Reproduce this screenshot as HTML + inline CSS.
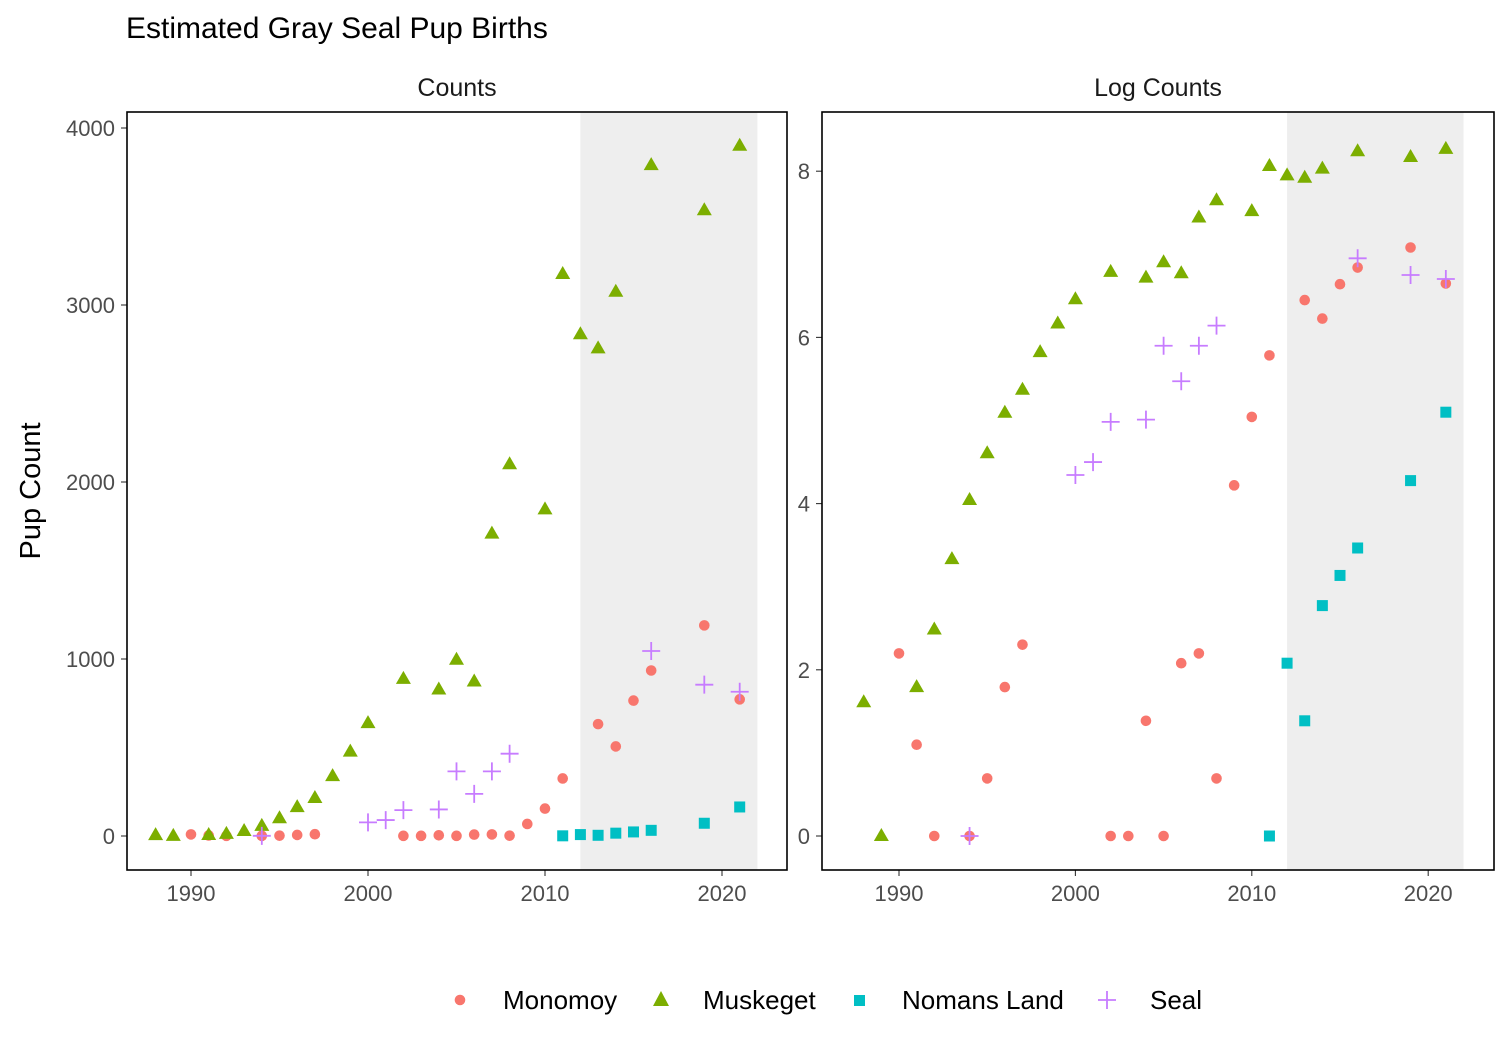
<!DOCTYPE html>
<html><head><meta charset="utf-8"><style>
body{margin:0;background:#fff}
svg{display:block;font-family:"Liberation Sans",Arial,sans-serif}
</style></head><body>
<svg id="chart" width="1512" height="1058" viewBox="0 0 1512 1058" xmlns="http://www.w3.org/2000/svg">
<rect width="1512" height="1058" fill="#fff"/>
<text x="126" y="38" style="font-size:30px" fill="#000">Estimated Gray Seal Pup Births</text>
<text transform="translate(40,491) rotate(-90)" text-anchor="middle" style="font-size:29px" fill="#000">Pup Count</text>
<g id="panels"></g>
<g>
<circle cx="460" cy="1000" r="5.3" fill="#F8766D"/>
<text x="503" y="1009" style="font-size:26px">Monomoy</text>
<polygon points="661,991 669,1006 653,1006" fill="#7CAE00"/>
<text x="703" y="1009" style="font-size:26px">Muskeget</text>
<rect x="854" y="995" width="11" height="11" fill="#00BFC4"/>
<text x="902" y="1009" style="font-size:26px">Nomans Land</text>
<path d="M1098,1000h18M1107,991v18" stroke="#C77CFF" stroke-width="1.8"/>
<text x="1150" y="1009" style="font-size:26px">Seal</text>
</g>
</svg>
<script>
const monYears=[1990,1991,1992,1994,1995,1996,1997,2002,2003,2004,2005,2006,2007,2008,2009,2010,2011,2013,2014,2015,2016,2019,2021];
const monCounts=[9,3,1,1,2,6,10,1,1,4,1,8,9,2,68,155,325,632,506,765,935,1190,772];
const musYears=[1988,1989,1991,1992,1993,1994,1995,1996,1997,1998,1999,2000,2002,2004,2005,2006,2007,2008,2010,2011,2012,2013,2014,2016,2019,2021];
const musCounts=[5,1,6,12,28,57,100,163,215,338,477,638,888,828,996,873,1708,2100,1845,3175,2835,2755,3075,3790,3535,3900];
const nomYears=[2011,2012,2013,2014,2015,2016,2019,2021];
const nomCounts=[1,8,4,16,23,32,72,164];
const sealYears=[1994,2000,2001,2002,2004,2005,2006,2007,2008,2016,2019,2021];
const sealCounts=[1,77,90,146,150,365,238,365,465,1045,855,815];
const xTicks=[1990,2000,2010,2020];
const leftTicks=[0,1000,2000,3000,4000];
const rightTicks=[0,2,4,6,8];

const NS="http://www.w3.org/2000/svg";
const root=document.getElementById('panels');
function mk(tag,attrs,parent){const e=document.createElementNS(NS,tag);for(const k in attrs)e.setAttribute(k,attrs[k]);(parent||root).appendChild(e);return e;}

const panels=[
 {name:'counts',title:'Counts',x0:127,x1:787,ax:191,bx:17.7,ay:836,by:-0.177,ticks:leftTicks,tr:v=>v},
 {name:'log-counts',title:'Log Counts',x0:822,x1:1494,ax:899,bx:17.64,ay:836,by:-83.1,ticks:rightTicks,tr:v=>Math.log(v)}
];
panels.forEach(p=>{
 const g=mk('g',{});
 
 
 const X=yr=>p.ax+(yr-1990)*p.bx, Y=v=>p.ay+v*p.by;
 const sh=mk('rect',{x:X(2012),y:112,width:X(2022)-X(2012),height:758,fill:'#EBEBEB','fill-opacity':0.85},g);
 
 
 const st=mk('text',{x:(p.x0+p.x1)/2,y:96,'text-anchor':'middle',style:'font-size:25px',fill:'#1a1a1a'},g);
 st.textContent=p.title;
 
 
 xTicks.forEach(t=>{
  mk('line',{x1:X(t),x2:X(t),y1:870,y2:876,stroke:'#333','stroke-width':1.1},g);
  const tx=mk('text',{x:X(t),y:901,'text-anchor':'middle',style:'font-size:22px',fill:'#4d4d4d'},g);
  tx.textContent=t;
  
  
 });
 p.ticks.forEach(t=>{
  mk('line',{x1:p.x0-6,x2:p.x0,y1:Y(t),y2:Y(t),stroke:'#333','stroke-width':1.1},g);
  const tx=mk('text',{x:p.x0-12,y:Y(t)+8,'text-anchor':'end',style:'font-size:22px',fill:'#4d4d4d'},g);
  tx.textContent=t;
  
  
 });
 monYears.forEach((yr,i)=>{const e=mk('circle',{cx:X(yr),cy:Y(p.tr(monCounts[i])),r:5.3,fill:'#F8766D'},g);
  
  });
 musYears.forEach((yr,i)=>{const x=X(yr),y=Y(p.tr(musCounts[i]));
  const e=mk('polygon',{points:`${x},${y-8} ${x+7.5},${y+5} ${x-7.5},${y+5}`,fill:'#7CAE00'},g);
  
  });
 nomYears.forEach((yr,i)=>{const x=X(yr),y=Y(p.tr(nomCounts[i]));
  const e=mk('rect',{x:x-5.5,y:y-5.5,width:11,height:11,fill:'#00BFC4'},g);
  
  });
 sealYears.forEach((yr,i)=>{const x=X(yr),y=Y(p.tr(sealCounts[i]));
  const e=mk('path',{d:`M${x-9},${y}h18M${x},${y-9}v18`,stroke:'#C77CFF','stroke-width':1.8},g);
  
  });
 mk('rect',{x:p.x0,y:112,width:p.x1-p.x0,height:758,fill:'none',stroke:'#000','stroke-width':1.6},g);
});
</script>
</body></html>
